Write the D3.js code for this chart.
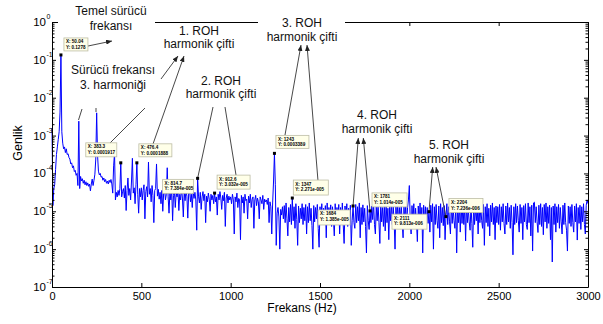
<!DOCTYPE html>
<html>
<head>
<meta charset="utf-8">
<script src="https://cdn.jsdelivr.net/npm/d3@7"></script>
<style>
body { margin: 0; background: #fff; }
text { font-family: "Liberation Sans", Arial, sans-serif; }
</style>
</head>
<body>
<div id="chart"></div>
<script>
// spectrum: log10(genlik) x 100, one value per 5 Hz bin, 0..3000 Hz
const binHz = 5;
const logGenlik = [
  -280,-485,-440,-430,-390,-350,-330,-310,-290,-238,-87,-290,-320,-335,-330,-345,-335,-350,-348,-358,
  -362,-375,-372,-385,-380,-395,-392,-405,-400,-432,-262,-440,-408,-420,-414,-426,-418,-430,-422,-432,
  -425,-434,-428,-446,-428,-415,-432,-418,-402,-362,-240,-352,-394,-404,-400,-410,-408,-418,-412,-422,
  -416,-426,-420,-428,-418,-424,-416,-428,-452,-380,-346,-470,-450,-462,-445,-458,-440,-372,-462,-448,
  -440,-465,-432,-498,-445,-412,-458,-440,-470,-420,-360,-452,-438,-480,-430,-372,-455,-505,-440,-462,
  -438,-470,-445,-430,-520,-448,-435,-462,-370,-455,-440,-475,-432,-458,-530,-445,-440,-375,-460,-442,
  -468,-450,-480,-445,-500,-452,-438,-470,-455,-385,-462,-505,-448,-470,-440,-525,-458,-445,-490,-452,
  -462,-445,-498,-455,-470,-440,-465,-515,-450,-472,-445,-460,-518,-452,-440,-475,-455,-490,-448,-466,
  -450,-470,-550,-413,-460,-478,-450,-495,-462,-448,-472,-455,-530,-460,-475,-452,-468,-500,-455,-470,
  -458,-480,-452,-475,-462,-510,-455,-470,-448,-465,-495,-458,-472,-450,-540,-465,-455,-478,-460,-470,
  -462,-480,-455,-470,-560,-462,-475,-452,-490,-466,-470,-575,-458,-478,-462,-505,-455,-472,-468,-520,
  -460,-478,-455,-490,-468,-462,-545,-470,-458,-485,-465,-475,-520,-462,-470,-480,-458,-495,-468,-475,
  -470,-482,-465,-530,-475,-488,-560,-478,-420,-347,-430,-590,-505,-490,-515,-600,-495,-510,-488,-520,
  -485,-530,-478,-520,-565,-490,-528,-482,-535,-465,-525,-488,-545,-480,-522,-590,-486,-530,-492,-520,
  -480,-535,-490,-525,-482,-560,-488,-530,-478,-525,-492,-538,-600,-485,-528,-490,-520,-482,-545,-595,
  -488,-528,-480,-535,-492,-520,-485,-570,-478,-530,-490,-525,-483,-540,-488,-522,-565,-480,-532,-490,
  -525,-482,-560,-490,-530,-478,-535,-585,-486,-522,-480,-540,-492,-528,-484,-590,-525,-486,-530,-545,
  -482,-530,-488,-525,-478,-570,-490,-535,-483,-528,-492,-540,-610,-485,-525,-548,-499,-530,-486,-522,
  -480,-535,-560,-488,-525,-482,-530,-585,-478,-528,-490,-540,-485,-552,-480,-530,-492,-575,-486,-525,
  -482,-535,-488,-528,-600,-485,-530,-478,-540,-490,-525,-483,-532,-570,-488,-528,-480,-545,-490,-470,
  -432,-525,-560,-485,-530,-480,-545,-492,-528,-580,-486,-532,-478,-540,-490,-610,-484,-528,-488,-545,
  -490,-532,-501,-555,-484,-528,-480,-600,-488,-535,-482,-525,-545,-486,-570,-480,-530,-490,-538,-485,
  -575,-514,-480,-535,-488,-528,-560,-482,-532,-490,-525,-545,-484,-610,-488,-530,-480,-555,-486,-532,
  -482,-535,-488,-578,-480,-530,-492,-528,-550,-484,-532,-595,-480,-535,-490,-525,-486,-560,-482,-530,
  -490,-525,-545,-482,-590,-488,-530,-480,-540,-492,-565,-484,-528,-478,-535,-490,-575,-486,-530,-488,
  -535,-482,-550,-488,-528,-480,-532,-560,-486,-535,-478,-528,-490,-545,-484,-530,-615,-488,-535,-480,
  -530,-486,-525,-555,-482,-532,-490,-575,-485,-528,-480,-535,-548,-478,-530,-488,-565,-484,-605,-478,
  -476,-530,-488,-528,-556,-484,-535,-480,-540,-490,-562,-482,-528,-478,-545,-488,-532,-484,-575,-490,
  -634,-486,-535,-480,-555,-488,-530,-482,-545,-490,-528,-560,-484,-535,-478,-530,-550,-605,-486,-532,
  -488,-540,-482,-530,-555,-486,-528,-480,-576,-490,-532,-484,-548,-488,-528,-480,-535,-560,-484,-470,
  -480
];

const xTicks = [0, 500, 1000, 1500, 2000, 2500, 3000];
const yExps = [0, -1, -2, -3, -4, -5, -6, -7];

// data tips
const tipFreq = [50, 385, 475, 815, 910, 1245, 1345, 1685, 1780, 2110, 2205];
const tipXText = ["X: 50.04", "X: 383.3", "X: 476.4", "X: 814.7", "X: 912.6", "X: 1243", "X: 1347", "X: 1684", "X: 1781", "X: 2111", "X: 2204"];
const tipYText = ["Y: 0.1278", "Y: 0.0001917", "Y: 0.0001888", "Y: 7.384e-005", "Y: 3.032e-005", "Y: 0.0003389",
  "Y: 2.271e-005", "Y: 1.385e-005", "Y: 1.014e-005", "Y: 9.813e-006", "Y: 7.236e-006"];

// annotation texts
const labelTexts = [
  ["Temel sürücü", "frekansı"],
  ["Sürücü frekansı", "3. harmoniği"],
  ["1. ROH", "harmonik çifti"],
  ["2. ROH", "harmonik çifti"],
  ["3. ROH", "harmonik çifti"],
  ["4. ROH", "harmonik çifti"],
  ["5. ROH", "harmonik çifti"]
];

const width = 603, height = 324;

const svg = d3.select("#chart").append("svg")
  .attr("width", width)
  .attr("height", height);

const x = d3.scaleLinear().domain([0, 3000]).range([52, 588]);
const y = d3.scaleLog().domain([1e-7, 1]).range([287, 22]);

const spectrum = logGenlik.map((v, i) => ({f: i * binHz, a: Math.pow(10, v / 100)}));

const line = d3.line()
  .x(d => x(d.f))
  .y(d => y(d.a));

svg.append("path")
  .datum(spectrum)
  .attr("fill", "none")
  .attr("stroke", "#0000ff")
  .attr("stroke-width", 1)
  .attr("d", line);

// axes (ticks point inwards, matlab style)
const majors = yExps.map(e => Math.pow(10, e));
const minors = [];
yExps.slice(1).forEach(e => {
  for (let k = 2; k <= 9; k++) minors.push(k * Math.pow(10, e));
});

svg.append("g")
  .attr("transform", "translate(0,287)")
  .call(d3.axisBottom(x).tickValues(xTicks).tickSize(-4).tickSizeOuter(0).tickPadding(5).tickFormat(d3.format("d")))
  .call(g => g.selectAll("text").style("font-size", "11px").style("font-family", "Liberation Sans, Arial").attr("fill", "#000"));

svg.append("g")
  .attr("transform", "translate(0,22)")
  .call(d3.axisTop(x).tickValues(xTicks).tickSize(-4).tickSizeOuter(0).tickFormat(""));

svg.append("g")
  .attr("transform", "translate(52,0)")
  .call(d3.axisLeft(y).tickValues(majors).tickSize(-4).tickSizeOuter(0).tickFormat(""));
svg.append("g")
  .attr("transform", "translate(52,0)")
  .call(d3.axisLeft(y).tickValues(minors).tickSize(-2.5).tickSizeOuter(0).tickFormat(""))
  .call(g => g.select(".domain").remove());

svg.append("g")
  .attr("transform", "translate(588,0)")
  .call(d3.axisRight(y).tickValues(majors).tickSize(-4).tickSizeOuter(0).tickFormat(""));
svg.append("g")
  .attr("transform", "translate(588,0)")
  .call(d3.axisRight(y).tickValues(minors).tickSize(-2.5).tickSizeOuter(0).tickFormat(""))
  .call(g => g.select(".domain").remove());

// y tick labels 10^e
const yl = svg.append("g");
yExps.forEach(e => {
  const ty = y(Math.pow(10, e));
  yl.append("text").attr("x", 46).attr("y", ty + 4)
    .attr("text-anchor", "end").style("font-size", "11.5px").text("10");
  yl.append("text").attr("x", 46.5).attr("y", ty - 3)
    .attr("text-anchor", "start").style("font-size", "7px").text(e);
});

svg.append("text")
  .attr("transform", "translate(22,143) rotate(-90)")
  .attr("text-anchor", "middle")
  .style("font-size", "12.5px")
  .text("Genlik");

svg.append("text")
  .attr("x", 302).attr("y", 312)
  .attr("text-anchor", "middle")
  .style("font-size", "12px")
  .text("Frekans (Hz)");

// white label backgrounds (cover parts of the frame)
const covers = [[58, 0, 97, 35], [66, 57, 94, 50], [160, 23, 90, 28], [258, 0, 87, 44]];
svg.selectAll("rect.cover").data(covers).join("rect")
  .attr("class", "cover")
  .attr("x", d => d[0]).attr("y", d => d[1])
  .attr("width", d => d[2]).attr("height", d => d[3])
  .attr("fill", "#fff");

// label positions: center x, baseline of the two lines
const labelPos = [[111, 15, 29.5], [113, 74, 88.5], [199, 35, 48], [221, 84.5, 97.5], [302, 27, 41], [377, 119, 132.5], [449, 149, 162.5]];
labelTexts.forEach((lines, i) => {
  const p = labelPos[i];
  lines.forEach((t, j) => {
    svg.append("text")
      .attr("x", p[0]).attr("y", p[1 + j])
      .attr("text-anchor", "middle")
      .style("font-size", "12px")
      .attr("fill", "#111")
      .text(t);
  });
});

// arrows
svg.append("defs").append("marker")
  .attr("id", "head")
  .attr("markerUnits", "userSpaceOnUse")
  .attr("markerWidth", 6).attr("markerHeight", 5)
  .attr("refX", 6).attr("refY", 2.5)
  .attr("orient", "auto")
  .append("path").attr("d", "M0,0L6,2.5L0,5Z").attr("fill", "#222");

const tipPx = tipFreq.map(f => [x(f), y(Math.pow(10, logGenlik[f / binHz] / 100))]);

const arrows = [
  {a: [88, 46], b: [112, 41], head: true},
  {a: [82, 109], b: [78.5, 120]},
  {a: [96, 108], b: [96, 112]},
  {a: [145, 108], b: [110, 143]},
  {a: [161, 79], b: [178, 56], head: true},
  {a: [153, 144], b: [184, 56], head: true},
  {a: [213, 107], b: tipPx[3]},
  {a: [225, 107], b: [236, 175]},
  {a: [285, 135], b: [301, 45], head: true},
  {a: [318, 181], b: [307, 45], head: true},
  {a: tipPx[7], b: [358.3, 138], head: true},
  {a: tipPx[8], b: [363.3, 138], head: true},
  {a: tipPx[9], b: [432.7, 167], head: true},
  {a: tipPx[10], b: [436, 167], head: true}
];
arrows.forEach(d => {
  const l = svg.append("line")
    .attr("x1", d.a[0]).attr("y1", d.a[1])
    .attr("x2", d.b[0]).attr("y2", d.b[1])
    .attr("stroke", "#333").attr("stroke-width", 0.9);
  if (d.head) l.attr("marker-end", "url(#head)");
});

// data tip markers and boxes
const tipBoxes = [[3, -17, 24, 13], [-35, -20, 31, 14], [2, -19, 33, 13], [-35, 1, 31, 14], [2.5, -18, 33, 14],
  [1.5, -18, 33, 13], [1, -18, 35, 15], [-35, 4, 32, 15], [2, -18, 35, 14], [-37, 2.5, 35, 15], [3, -18, 34, 14]];

tipPx.forEach((p, i) => {
  const bx = p[0] + tipBoxes[i][0], by = p[1] + tipBoxes[i][1];
  svg.append("rect")
    .attr("x", bx).attr("y", by)
    .attr("width", tipBoxes[i][2]).attr("height", tipBoxes[i][3])
    .attr("fill", "#ffffe8").attr("stroke", "#bdbda6").attr("stroke-width", 0.8);
  svg.append("text").attr("x", bx + 2).attr("y", by + 5.5)
    .style("font-size", "4.6px").style("font-weight", "bold").text(tipXText[i]);
  svg.append("text").attr("x", bx + 2).attr("y", by + 11)
    .style("font-size", "4.6px").style("font-weight", "bold").text(tipYText[i]);
  svg.append("rect")
    .attr("x", p[0] - 1.5).attr("y", p[1] - 1.5)
    .attr("width", 3).attr("height", 3)
    .attr("fill", "#000");
});
</script>
</body>
</html>
